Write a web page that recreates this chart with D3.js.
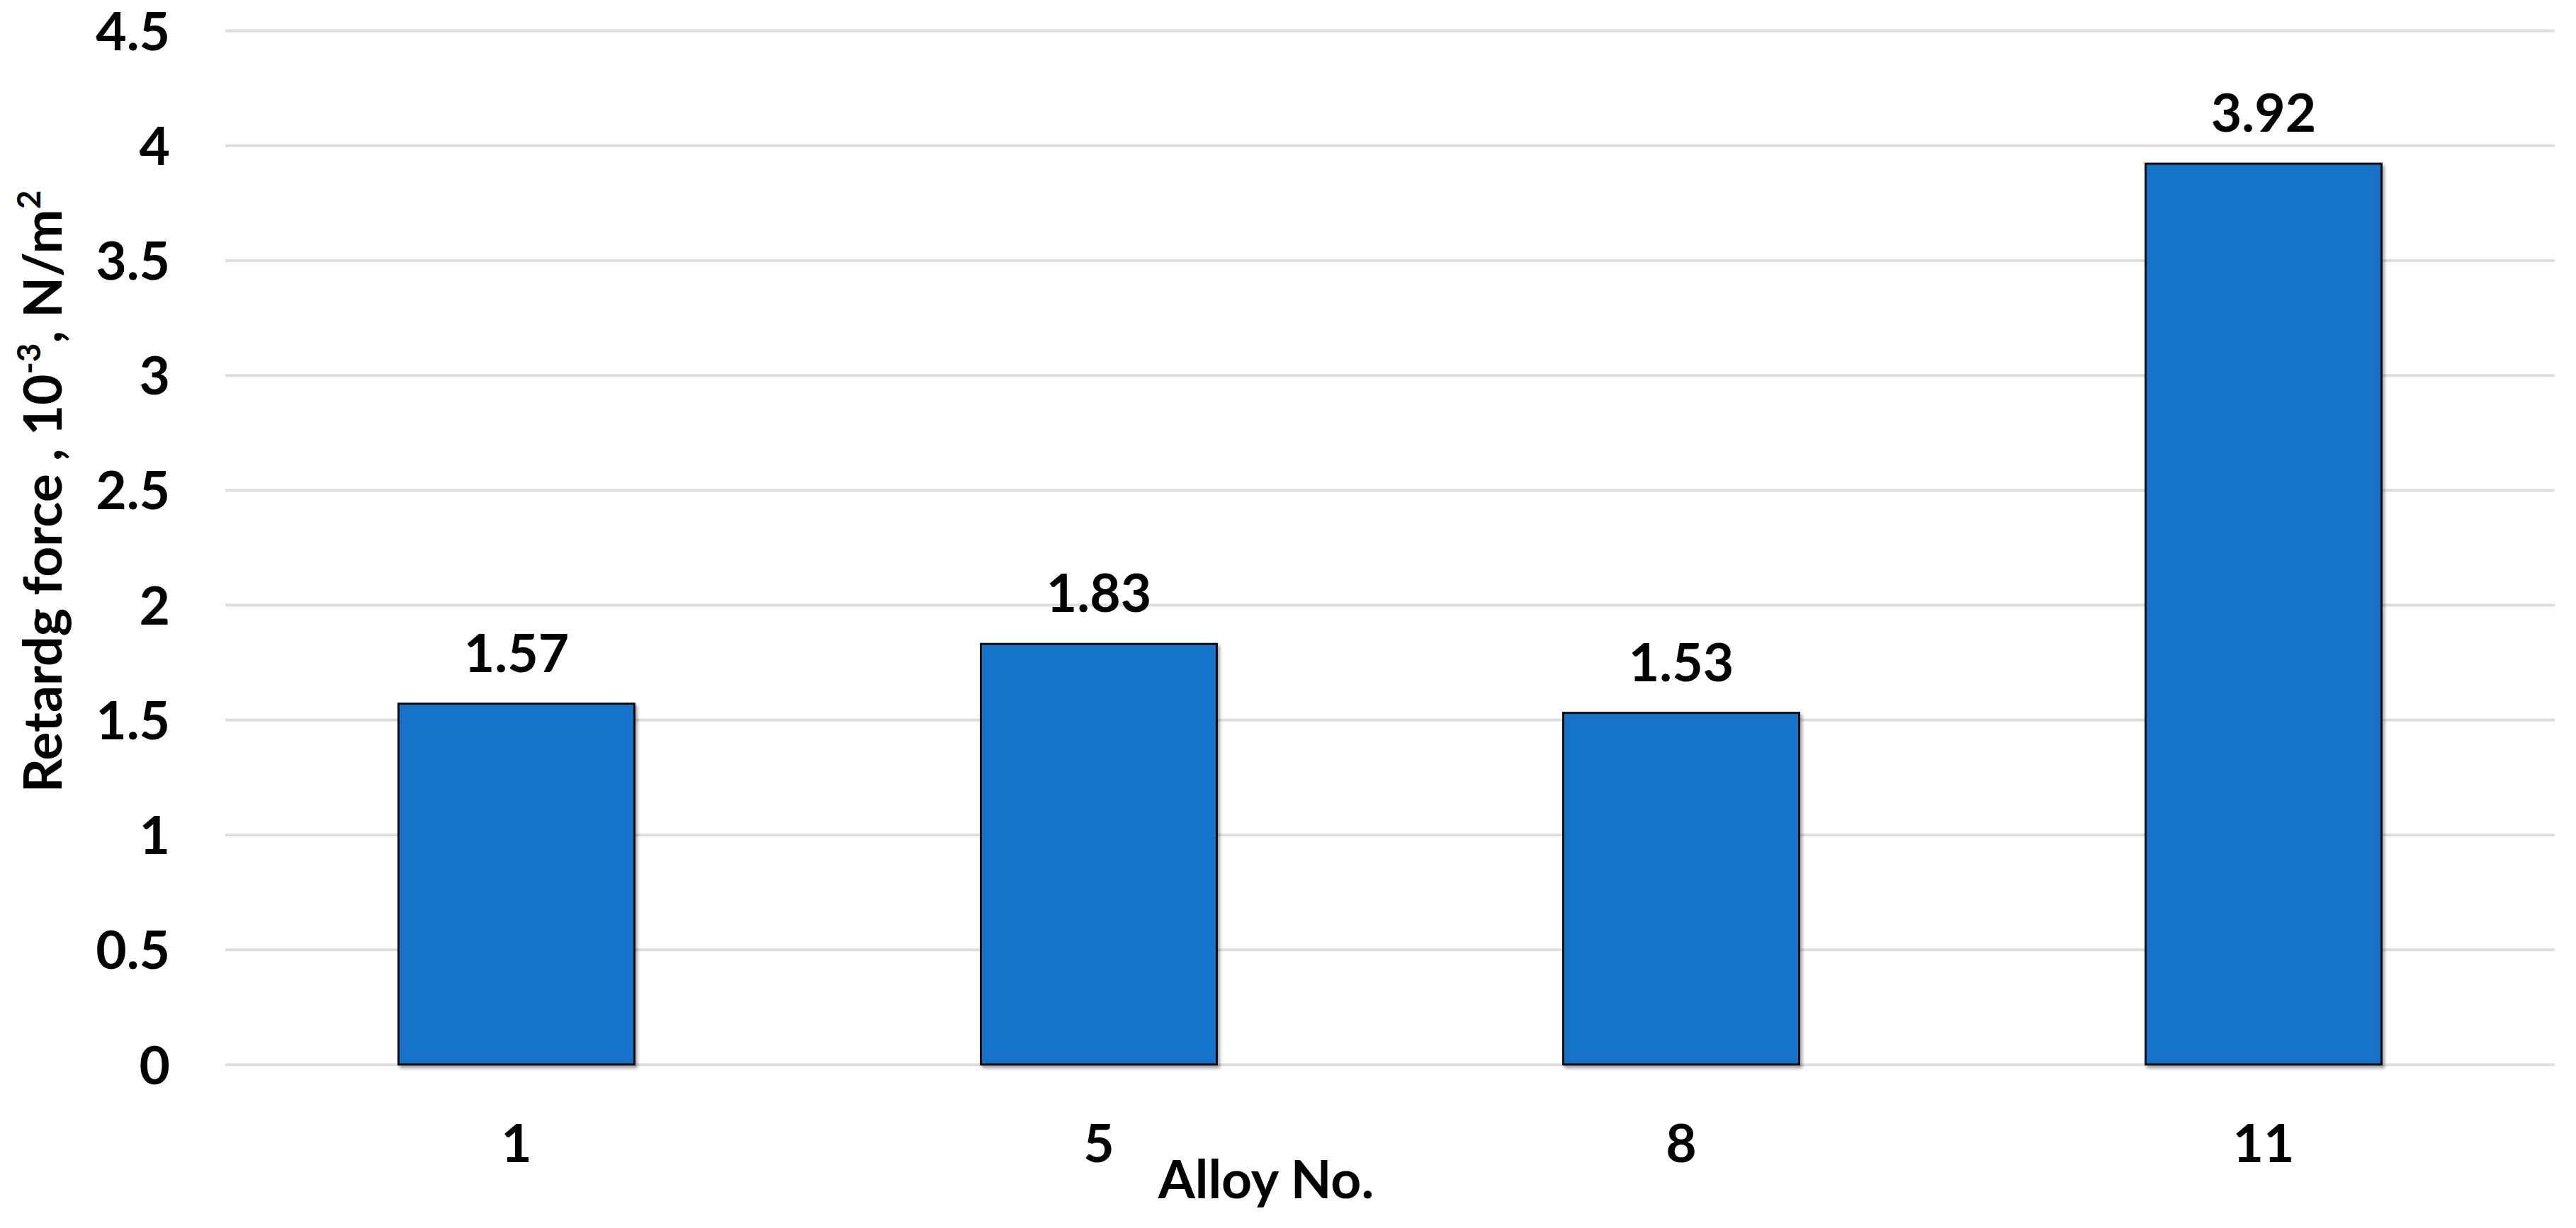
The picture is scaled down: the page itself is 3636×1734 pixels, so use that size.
<!DOCTYPE html>
<html>
<head>
<meta charset="utf-8">
<script src="https://cdn.jsdelivr.net/npm/d3@7"></script>
<style>
  html, body { margin: 0; padding: 0; background: #fff; }
  svg { display: block; }
  text { font-family: Lato, "Open Sans", sans-serif; font-weight: 700; fill: #000; }
</style>
</head>
<body>
<svg id="chart" width="3636" height="1734"></svg>
<script>
const categories = ["1", "5", "8", "11"];
const values = [1.57, 1.83, 1.53, 3.92];
const yTicks = [0, 0.5, 1, 1.5, 2, 2.5, 3, 3.5, 4, 4.5];
const yTickLabels = ["0", "0.5", "1", "1.5", "2", "2.5", "3", "3.5", "4", "4.5"];
const xTitle = "Alloy No.";

const W = 3636, H = 1734;
const plot = { left: 318, right: 3606, top: 43, bottom: 1503 };
const svg = d3.select("#chart");

const defs = svg.append("defs");
const f = defs.append("filter").attr("id", "shadow").attr("x", "-5%").attr("y", "-5%").attr("width", "115%").attr("height", "115%");
f.append("feDropShadow").attr("dx", 3).attr("dy", 4).attr("stdDeviation", 2).attr("flood-color", "#000").attr("flood-opacity", 0.35);

const x = d3.scaleBand().domain(categories).range([plot.left, plot.right]).paddingInner(0.595).paddingOuter(0.2975);
const y = d3.scaleLinear().domain([0, 4.5]).range([plot.bottom, plot.top]);

// gridlines
const yAxis = d3.axisLeft(y).tickValues(yTicks).tickSize(-(plot.right - plot.left)).tickFormat((d, i) => yTickLabels[i]).tickPadding(78);
const gy = svg.append("g").attr("transform", `translate(${plot.left},0)`).call(yAxis);
gy.select(".domain").remove();
gy.selectAll(".tick line").attr("stroke", "#dedede").attr("stroke-width", 4);
gy.selectAll(".tick text").attr("font-size", 75).attr("dy", "0.36em").style("font-family", "Lato, 'Open Sans', sans-serif").style("font-weight", 700).attr("fill", "#000");

// x axis labels
const xAxis = d3.axisBottom(x).tickSize(0).tickPadding(85);
const gx = svg.append("g").attr("transform", `translate(0,${plot.bottom})`).call(xAxis);
gx.select(".domain").remove();
gx.selectAll(".tick text").attr("font-size", 75).attr("dy", "0.71em").style("font-family", "Lato, 'Open Sans', sans-serif").style("font-weight", 700).attr("fill", "#000");

// bars
svg.append("g").selectAll("rect").data(values).join("rect")
  .attr("x", (d, i) => x(categories[i]))
  .attr("y", d => y(d))
  .attr("width", x.bandwidth())
  .attr("height", d => y(0) - y(d))
  .attr("fill", "#1873CA")
  .attr("stroke", "#111")
  .attr("stroke-width", 3)
  .attr("filter", "url(#shadow)");

// value labels
svg.append("g").selectAll("text").data(values).join("text")
  .attr("x", (d, i) => x(categories[i]) + x.bandwidth() / 2)
  .attr("y", d => y(d) - 45)
  .attr("text-anchor", "middle")
  .attr("font-size", 75)
  .text(d => d.toFixed(2));

// x title
svg.append("text")
  .attr("x", 1787).attr("y", 1692)
  .attr("text-anchor", "middle")
  .attr("font-size", 75)
  .text(xTitle);

// y title
const yt = svg.append("text")
  .attr("transform", "translate(87,694) rotate(-90)")
  .attr("text-anchor", "middle")
  .attr("font-size", 75);
yt.append("tspan").text("Retardg force , 10");
yt.append("tspan").attr("font-size", 46).attr("dy", -30).text("-3");
yt.append("tspan").attr("dy", 30).text(", N/m");
yt.append("tspan").attr("font-size", 46).attr("dy", -30).text("2");
</script>
</body>
</html>
